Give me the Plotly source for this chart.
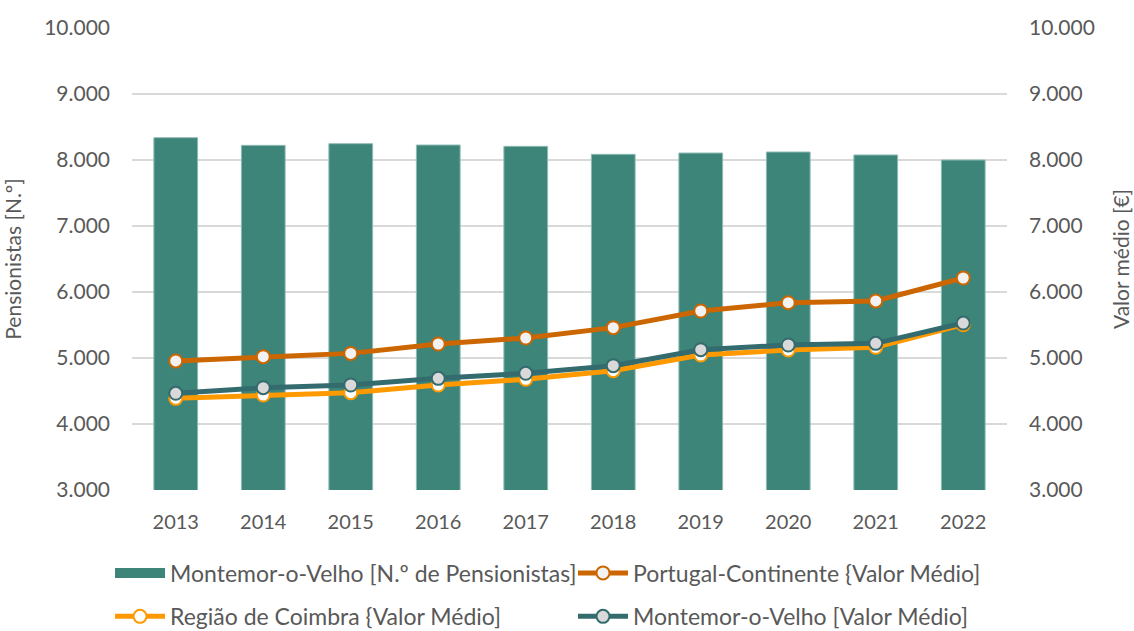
import plotly.graph_objects as go

anos = [str(a) for a in range(2013, 2023)]
pensionistas = [8338, 8222, 8247, 8227, 8207, 8086, 8106, 8121, 8076, 8000]
portugal_continente = [4955, 5020, 5070, 5212, 5303, 5460, 5712, 5838, 5864, 6212]
regiao_coimbra = [4389, 4439, 4475, 4591, 4677, 4808, 5045, 5121, 5162, 5505]
montemor_valor = [4465, 4550, 4591, 4692, 4768, 4884, 5126, 5197, 5222, 5530]

font_family = "Lato, 'Open Sans', sans-serif"
grey_text = "#595959"
bar_color = "#3d8479"

fig = go.Figure()

fig.add_trace(go.Bar(
    x=anos, y=pensionistas, name="Montemor-o-Velho [N.º de Pensionistas]",
    marker=dict(color=bar_color, line=dict(color="#8fbcb5", width=1)),
    width=0.5, yaxis="y", showlegend=False,
))
# legend key for the bars: a wide filled block instead of the small default square
fig.add_trace(go.Scatter(
    x=[None], y=[None], name="Montemor-o-Velho [N.º de Pensionistas]",
    mode="lines", line=dict(color=bar_color, width=10), legend="legend",
))

line_specs = [
    ("Portugal-Continente {Valor Médio]", portugal_continente, "#cc6600", "#f2f2f2", "legend2"),
    ("Região de Coimbra {Valor Médio]", regiao_coimbra, "#ff9900", "#ffffff", "legend3"),
    ("Montemor-o-Velho [Valor Médio]", montemor_valor, "#336b6e", "#d9d9d9", "legend4"),
]
for nome, vals, cor, fill, leg in line_specs:
    fig.add_trace(go.Scatter(
        x=anos, y=vals, name=nome, yaxis="y2", mode="lines+markers",
        line=dict(color=cor, width=5),
        marker=dict(size=13, color=fill, line=dict(color=cor, width=2)),
        legend=leg,
    ))

axis_common = dict(
    range=[3000, 10000], dtick=1000, tick0=3000, tickformat=",d",
    tickfont=dict(size=21, color=grey_text, family=font_family),
    zeroline=False, showline=False, ticklabelstandoff=21,
)

legend_common = dict(
    orientation="h", xanchor="left", yanchor="top",
    font=dict(size=23, color=grey_text, family=font_family),
    itemwidth=50, bgcolor="rgba(0,0,0,0)",
)

fig.update_layout(
    width=1134, height=631,
    margin=dict(l=132, r=127, t=28, b=141, autoexpand=False),
    paper_bgcolor="white", plot_bgcolor="white",
    separators=",.",
    font=dict(family=font_family, color=grey_text, size=18),
    xaxis=dict(
        type="category", range=[-0.5, len(anos) - 0.5],
        showgrid=False, showline=False, zeroline=False,
        tickfont=dict(size=20, color=grey_text, family=font_family),
        ticks="", ticklabelstandoff=18,
    ),
    yaxis=dict(
        **axis_common, showgrid=True, gridcolor="#d9d9d9", gridwidth=1.5,
        title=dict(text="Pensionistas [N.º]", font=dict(size=21, color=grey_text), standoff=20),
    ),
    yaxis2=dict(
        **axis_common, overlaying="y", side="right", showgrid=False,
        title=dict(text="Valor médio [€]", font=dict(size=21, color=grey_text), standoff=20),
    ),
    legend=dict(**legend_common, x=-0.0251, y=-0.133),
    legend2=dict(**legend_common, x=0.504, y=-0.133),
    legend3=dict(**legend_common, x=-0.0251, y=-0.227),
    legend4=dict(**legend_common, x=0.504, y=-0.227),
    showlegend=True,
)

fig.write_html("out.html")
